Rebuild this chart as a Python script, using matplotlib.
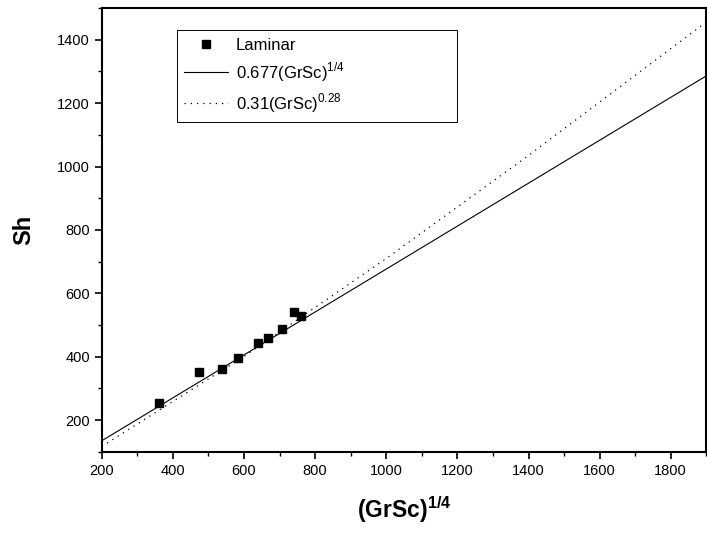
import matplotlib
matplotlib.use("Agg")
import matplotlib.pyplot as plt
from matplotlib.ticker import MultipleLocator

# laminar data points
lam_x = [361, 474, 537, 584, 639, 668, 708, 741, 761]
lam_y = [255, 352, 360, 395, 443, 460, 487, 542, 527]

# correlation lines, points
fit1_x = [200, 1900]
fit1_y = [135, 1286]
fit2_x = [200, 600, 1000, 1400, 1900]
fit2_y = [117, 401, 710, 1035, 1456]

labels = ["Laminar", r"0.677(GrSc)$^{1/4}$", r"0.31(GrSc)$^{0.28}$"]

plt.rcParams['font.family'] = ['Liberation Sans', 'DejaVu Sans']
plt.rcParams['mathtext.fontset'] = 'custom'
plt.rcParams['mathtext.rm'] = 'Liberation Sans'
plt.rcParams['mathtext.bf'] = 'Liberation Sans:bold'

fig = plt.figure(figsize=(7.07, 5.36), dpi=100)
ax = fig.add_axes([0.144, 0.157, 0.855, 0.828])

ax.plot(lam_x, lam_y, 's', color='black', markersize=6, label=labels[0])
ax.plot(fit1_x, fit1_y, '-', color='black', lw=0.8, label=labels[1])
ax.plot(fit2_x, fit2_y, color='black', lw=0.9, linestyle=(0, (1, 4)), label=labels[2])

ax.set_xlim(200, 1900)
ax.set_ylim(100, 1500)
ax.xaxis.set_major_locator(MultipleLocator(200))
ax.xaxis.set_minor_locator(MultipleLocator(100))
ax.yaxis.set_major_locator(MultipleLocator(200))
ax.yaxis.set_minor_locator(MultipleLocator(100))
ax.tick_params(which='major', direction='out', length=5, width=1.2, labelsize=10.5)
ax.tick_params(which='minor', direction='out', length=3, width=1.0)
for s in ax.spines.values():
    s.set_linewidth(1.5)

ax.set_xlabel(r"(GrSc)$^{\mathbf{1/4}}$", fontsize=16.5, fontweight='bold', labelpad=12)
ax.set_ylabel("Sh", fontsize=17, fontweight='bold', labelpad=16)

leg = ax.legend(loc='upper left', bbox_to_anchor=(0.124, 0.95 - 0.214, 0.464, 0.214),
                mode='expand', borderaxespad=0, fontsize=12, handlelength=2.6,
                handletextpad=0.5, labelspacing=0.45, fancybox=False,
                framealpha=1, borderpad=0.45)
leg.get_frame().set_edgecolor('black')
leg.get_frame().set_linewidth(0.7)

fig.savefig("out.png", dpi=100)
